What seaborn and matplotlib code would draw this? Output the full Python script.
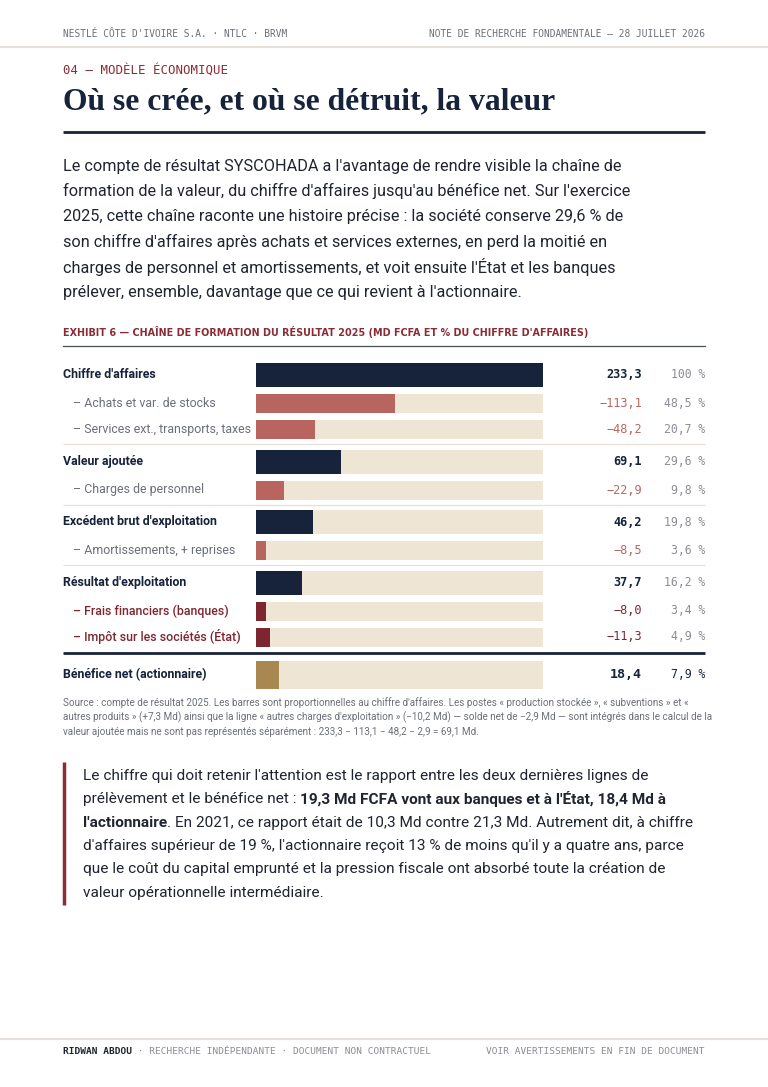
import matplotlib
matplotlib.use("Agg")
import matplotlib.pyplot as plt
import numpy as np
import pandas as pd
import seaborn as sns

# --- Exhibit 6 data (Md FCFA, exercice 2025) ---
row_labels = [
    "Chiffre d'affaires",
    "– Achats et var. de stocks",
    "– Services ext., transports, taxes",
    "Valeur ajoutée",
    "– Charges de personnel",
    "Excédent brut d'exploitation",
    "– Amortissements, + reprises",
    "Résultat d'exploitation",
    "– Frais financiers (banques)",
    "– Impôt sur les sociétés (État)",
    "Bénéfice net (actionnaire)",
]
row_values = [233.3, -113.1, -48.2, 69.1, -22.9, 46.2, -8.5, 37.7, -8.0, -11.3, 18.4]
row_pct = [100, 48.5, 20.7, 29.6, 9.8, 19.8, 3.6, 16.2, 3.4, 4.9, 7.9]
row_kind = ["total", "sub", "sub", "total", "sub", "total", "sub", "total", "levy", "levy", "net"]
revenue = row_values[0]

# --- page text ---
header_left = "NESTLÉ CÔTE D'IVOIRE S.A. · NTLC · BRVM"
header_right = "NOTE DE RECHERCHE FONDAMENTALE — 28 JUILLET 2026"
kicker = "04 — MODÈLE ÉCONOMIQUE"
title = "Où se crée, et où se détruit, la valeur"
intro_lines = [
    "Le compte de résultat SYSCOHADA a l'avantage de rendre visible la chaîne de",
    "formation de la valeur, du chiffre d'affaires jusqu'au bénéfice net. Sur l'exercice",
    "2025, cette chaîne raconte une histoire précise : la société conserve 29,6 % de",
    "son chiffre d'affaires après achats et services externes, en perd la moitié en",
    "charges de personnel et amortissements, et voit ensuite l'État et les banques",
    "prélever, ensemble, davantage que ce qui revient à l'actionnaire.",
]
exhibit_title = "EXHIBIT 6 — CHAÎNE DE FORMATION DU RÉSULTAT 2025 (MD FCFA ET % DU CHIFFRE D'AFFAIRES)"
source_lines = [
    "Source : compte de résultat 2025. Les barres sont proportionnelles au chiffre d'affaires. Les postes « production stockée », « subventions » et «",
    "autres produits » (+7,3 Md) ainsi que la ligne « autres charges d'exploitation » (−10,2 Md) — solde net de −2,9 Md — sont intégrés dans le calcul de la",
    "valeur ajoutée mais ne sont pas représentés séparément : 233,3 − 113,1 − 48,2 − 2,9 = 69,1 Md.",
]
quote_lines = [
    [("Le chiffre qui doit retenir l'attention est le rapport entre les deux dernières lignes de", False)],
    [("prélèvement et le bénéfice net : ", False), ("19,3 Md FCFA vont aux banques et à l'État, 18,4 Md à", True)],
    [("l'actionnaire", True), (". En 2021, ce rapport était de 10,3 Md contre 21,3 Md. Autrement dit, à chiffre", False)],
    [("d'affaires supérieur de 19 %, l'actionnaire reçoit 13 % de moins qu'il y a quatre ans, parce", False)],
    [("que le coût du capital emprunté et la pression fiscale ont absorbé toute la création de", False)],
    [("valeur opérationnelle intermédiaire.", False)],
]
footer_bold = "RIDWAN ABDOU"
footer_rest = " · RECHERCHE INDÉPENDANTE · DOCUMENT NON CONTRACTUEL"
footer_right = "VOIR AVERTISSEMENTS EN FIN DE DOCUMENT"

# --- colours / fonts ---
NAVY = "#16233b"
ROSE = "#b9655f"
WINE = "#7e2630"
GOLD = "#a98751"
BEIGE = "#efe5d5"
RULE = "#e6e0d6"
GREY = "#6b6f78"
LIGHT = "#8a8d94"
INK = "#1f2430"
ACCENT = "#8b2c35"
MONO = ["DejaVu Sans Mono"]
SANS = ["Roboto", "DejaVu Sans"]
SERIF = ["Liberation Serif", "DejaVu Serif"]

KINDS = {
    "total": dict(bar=NAVY, h=24, row=31, lab=NAVY, lw="bold", ind=0, val=NAVY, vw="bold"),
    "sub": dict(bar=ROSE, h=19, row=26, lab=GREY, lw="normal", ind=10, val=ROSE, vw="normal"),
    "levy": dict(bar=WINE, h=19, row=26, lab=WINE, lw="medium", ind=10, val=WINE, vw="normal"),
    "net": dict(bar=GOLD, h=28, row=36, lab=NAVY, lw="bold", ind=0, val=NAVY, vw="bold"),
}


def fr(v, nd=1):
    return f"{v:.{nd}f}".replace(".", ",")


W, H = 768, 1087
fig = plt.figure(figsize=(W / 100, H / 100), dpi=100)
fig.patch.set_facecolor("white")

# page axes in pixel units
page = fig.add_axes([0, 0, 1, 1])
page.set_xlim(0, W)
page.set_ylim(H, 0)
page.axis("off")

L, R = 63, 705
BAR_L, BAR_R = 256, 543

# header / footer
page.axhline(47, color=RULE, lw=1.5)
page.axhline(1039, color=RULE, lw=1.5)
page.text(L, 34, header_left, family=MONO, fontsize=6.85, color=GREY, va="center")
page.text(R, 34, header_right, family=MONO, fontsize=6.85, color=GREY, va="center", ha="right")

page.text(L, 70, kicker, family=MONO, fontsize=8.9, color=ACCENT, va="center")
page.text(L, 102, title, family=SERIF, fontsize=22.8, color=NAVY, va="center", weight="bold")
page.plot([L, R], [132, 132], color=NAVY, lw=2, solid_capstyle="butt")

for i, line in enumerate(intro_lines):
    page.text(L, 166 + 25.2 * i, line, family=SANS, fontsize=11.7, color=INK, va="center")

page.text(L, 332, exhibit_title, family=["DejaVu Sans"], fontsize=6.95, color=ACCENT,
          va="center", weight="bold")
page.plot([L, R], [346, 346], color="#4a4f5a", lw=0.9)

# row layout
centers, seps = [], []
y = 359.5
for i, kind in enumerate(row_kind):
    if i > 0 and kind == "total":
        seps.append((y + 1.75, 0.9, RULE))
        y += 3.5
    if kind == "net":
        seps.append((y + 3.2, 2.0, NAVY))
        y += 6.5
    rh = KINDS[kind]["row"]
    centers.append(y + rh / 2)
    y += rh

for sy, lw, col in seps:
    page.plot([L, R], [sy, sy], color=col, lw=lw, solid_capstyle="butt")

df = pd.DataFrame({
    "label": row_labels,
    "value": row_values,
    "pct": row_pct,
    "kind": row_kind,
    "pos": centers,
})
df["length"] = df["value"].abs()
df["track"] = revenue

# bars: axes spans bar column, y in pixel units so rows line up with page text
bars = fig.add_axes([BAR_L / W, 0, (BAR_R - BAR_L) / W, 1])
for kind, st in KINDS.items():
    sub = df[df["kind"] == kind]
    pos = np.sort(sub["pos"].to_numpy())
    step = np.diff(pos).min() if len(pos) > 1 else 1.0
    w = st["h"] / step
    sns.barplot(data=sub, x="track", y="pos", orient="y", native_scale=True,
                color=BEIGE, saturation=1, width=w, errorbar=None, linewidth=0, ax=bars)
    sns.barplot(data=sub, x="length", y="pos", orient="y", native_scale=True,
                color=st["bar"], saturation=1, width=w, errorbar=None, linewidth=0, ax=bars)
bars.set_xlim(0, revenue)
bars.set_ylim(H, 0)
bars.axis("off")

for _, r in df.iterrows():
    st = KINDS[r["kind"]]
    page.text(L + st["ind"], r["pos"], r["label"], family=SANS, fontsize=8.9,
              color=st["lab"], weight=st["lw"], va="center")
    v = r["value"]
    txt = ("−" if v < 0 else "") + fr(abs(v))
    vsize = 9.6 if r["kind"] == "net" else 8.6
    page.text(642, r["pos"], txt, family=MONO, fontsize=vsize, color=st["val"],
              weight=st["vw"], va="center", ha="right")
    p = r["pct"]
    ptxt = (f"{p:.0f}" if p == 100 else fr(p)) + " %"
    pcol = NAVY if r["kind"] == "net" else LIGHT
    page.text(R, r["pos"], ptxt, family=MONO, fontsize=8.3, color=pcol, va="center", ha="right")

for i, line in enumerate(source_lines):
    page.text(L, 703 + 14.5 * i, line, family=SANS, fontsize=7.1, color=GREY, va="center")

# pull quote
page.plot([64, 64], [762, 905], color=ACCENT, lw=2.5, solid_capstyle="butt")
renderer = fig.canvas.get_renderer()
for i, segs in enumerate(quote_lines):
    x = 83
    yy = 776 + 23.3 * i
    for s, bold in segs:
        t = page.text(x, yy, s, family=SANS, fontsize=11.05, color=INK, va="center",
                      weight="bold" if bold else "normal")
        x += t.get_window_extent(renderer).width

# footer
t = page.text(L, 1052, footer_bold, family=MONO, fontsize=6.8, color=INK, va="center", weight="bold")
page.text(L + t.get_window_extent(renderer).width, 1052, footer_rest, family=MONO,
          fontsize=6.8, color=LIGHT, va="center")
page.text(R, 1052, footer_right, family=MONO, fontsize=6.8, color=LIGHT, va="center", ha="right")

fig.savefig("out.png", dpi=100, facecolor="white")
